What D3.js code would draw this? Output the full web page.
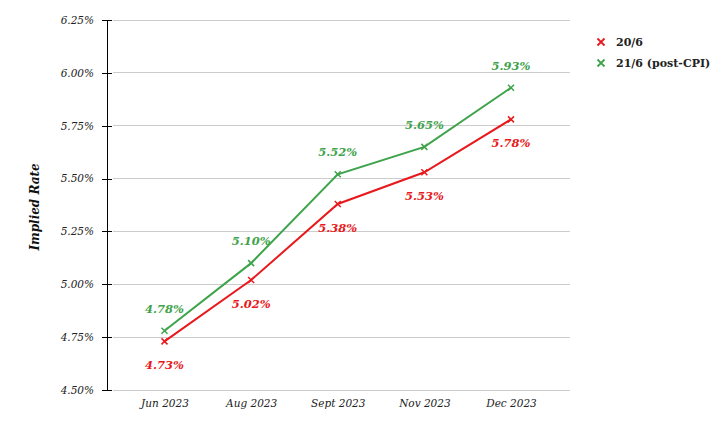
<!DOCTYPE html>
<html><head><meta charset="utf-8">
<script src="https://cdn.jsdelivr.net/npm/d3@7"></script>
<style>
body{margin:0;background:#fff;}
text{font-family:"DejaVu Serif",Georgia,serif;}
</style></head>
<body><svg id="c" width="728" height="424"></svg>
<script>
const categories = ["Jun 2023","Aug 2023","Sept 2023","Nov 2023","Dec 2023"];
const series1Name = "20/6";
const series1 = [4.73,5.02,5.38,5.53,5.78];
const series2Name = "21/6 (post-CPI)";
const series2 = [4.78,5.10,5.52,5.65,5.93];
const yTicks = [4.50,4.75,5.00,5.25,5.50,5.75,6.00,6.25];
const yTitle = "Implied Rate";

const red = "#e8191c", green = "#3ea34a";
const svg = d3.select("#c");
const x = d3.scalePoint().domain(categories).range([164.5,511]);
const y = d3.scaleLinear().domain([4.5,6.25]).range([390,20]);
const gridL = 113, gridR = 570, axisX = 107;

// gridlines
svg.append("g").selectAll("line").data(yTicks).join("line")
  .attr("x1",gridL).attr("x2",gridR).attr("y1",d=>y(d)).attr("y2",d=>y(d))
  .attr("stroke","#cccccc").attr("stroke-width",1).attr("shape-rendering","crispEdges");

// y axis
const ya = svg.append("g").attr("transform",`translate(${axisX},0)`)
  .call(d3.axisLeft(y).tickValues(yTicks).tickFormat(d=>d.toFixed(2)+"%").tickSize(5).tickSizeOuter(0));
ya.select(".domain").attr("stroke","#000").attr("d",`M0,${y(4.5)}V${y(6.25)}`).attr("shape-rendering","crispEdges");
ya.selectAll(".tick line").attr("x1",-5).attr("x2",5).attr("stroke","#000").attr("shape-rendering","crispEdges");
ya.selectAll(".tick text").attr("x",-13).attr("font-size",10.5).attr("font-style","italic")
  .attr("font-family","'DejaVu Serif',serif").attr("fill","#222");

// x axis labels
const xa = svg.append("g").attr("transform",`translate(0,390)`)
  .call(d3.axisBottom(x).tickSize(0));
xa.select(".domain").remove();
xa.selectAll(".tick text").attr("y",10).attr("dy","0.71em").attr("font-size",10.5).attr("font-style","italic")
  .attr("font-family","'DejaVu Serif',serif").attr("fill","#222");

// y title
svg.append("text").attr("transform","translate(39,207) rotate(-90)").attr("text-anchor","middle")
  .attr("font-size",12).attr("font-weight","bold").attr("font-style","italic").attr("fill","#111").text(yTitle);

const line = d3.line().x((d,i)=>x(categories[i])).y(d=>y(d));
function drawSeries(vals,color,above){
  svg.append("path").datum(vals).attr("d",line).attr("fill","none").attr("stroke",color).attr("stroke-width",2);
  const s=3;
  const g = svg.append("g").selectAll("g").data(vals).join("g")
    .attr("transform",(d,i)=>`translate(${x(categories[i])},${y(d)})`);
  g.append("path").attr("d",`M${-s},${-s}L${s},${s}M${-s},${s}L${s},${-s}`).attr("stroke",color).attr("stroke-width",1.5);
  svg.append("g").selectAll("text").data(vals).join("text")
    .attr("x",(d,i)=>x(categories[i])).attr("y",d=>y(d)+(above?-18:28))
    .attr("text-anchor","middle").attr("font-size",11.5).attr("font-weight","bold").attr("font-style","italic")
    .attr("fill",color).text(d=>d.toFixed(2)+"%");
}
drawSeries(series1,red,false);
drawSeries(series2,green,true);

// legend
const leg = [[series1Name,red],[series2Name,green]];
leg.forEach((l,i)=>{
  const cy = 42 + i*21;
  const s=3.5;
  svg.append("path").attr("d",`M${601-s},${cy-s}L${601+s},${cy+s}M${601-s},${cy+s}L${601+s},${cy-s}`)
    .attr("stroke",l[1]).attr("stroke-width",1.8);
  svg.append("text").attr("x",616).attr("y",cy).attr("dy","0.35em").attr("font-size",11).attr("font-weight","bold")
    .attr("fill","#222").text(l[0]);
});
</script></body></html>
